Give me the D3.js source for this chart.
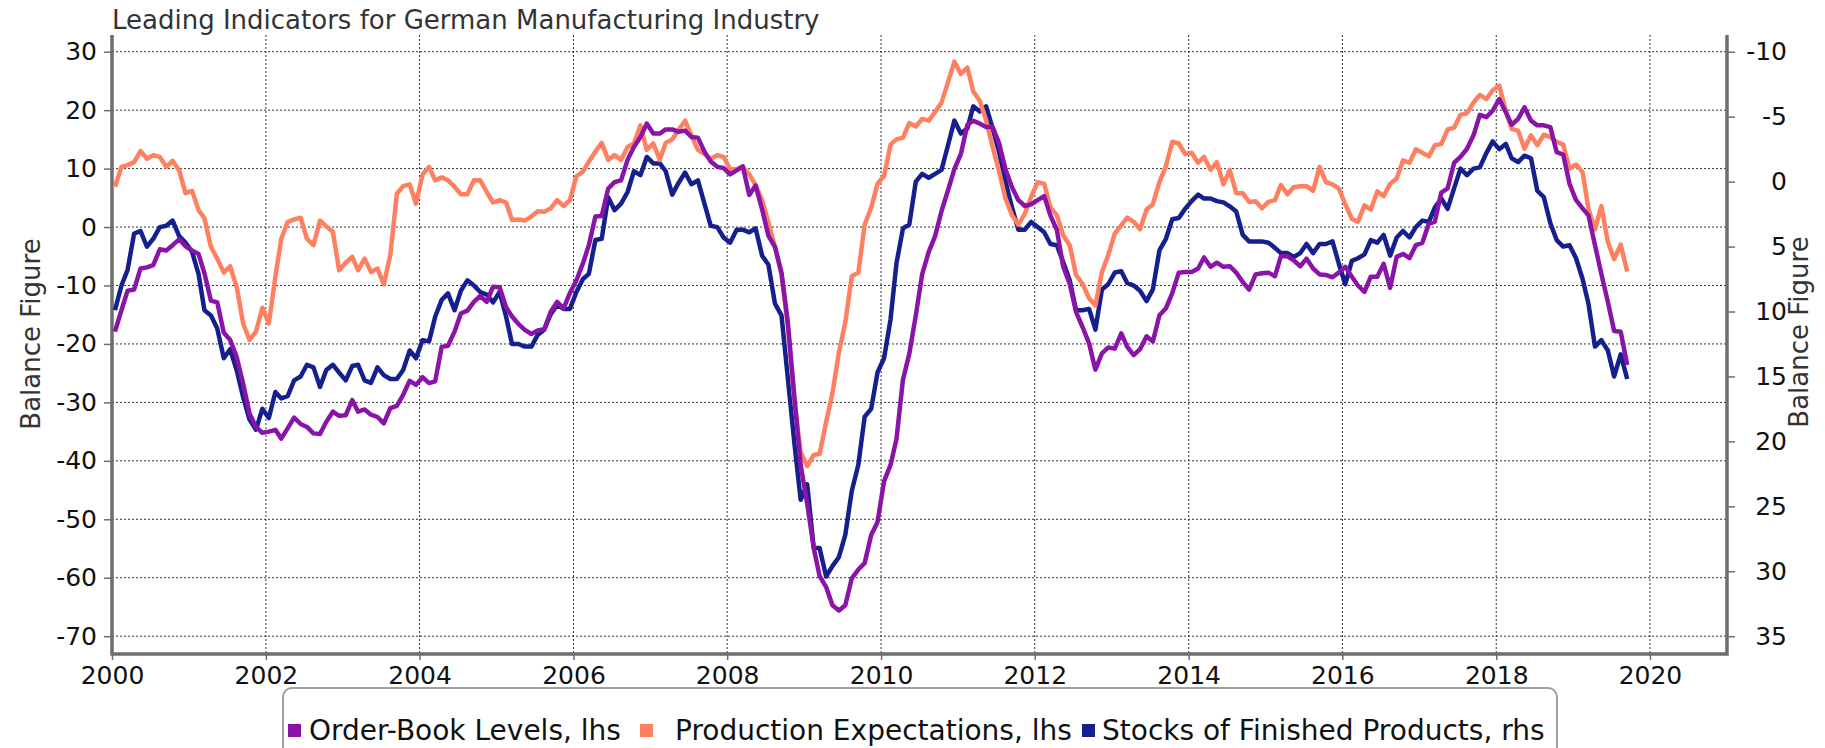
<!DOCTYPE html>
<html>
<head>
<meta charset="utf-8">
<script src="https://cdn.jsdelivr.net/npm/d3@7"></script>
<style>
	body {margin:0; background:#fff;}
	text {font-family:"DejaVu Sans", Verdana, sans-serif;}
	.grid line {stroke:#333; stroke-width:1; stroke-dasharray:2,2;}
	.axis text {font-size:25px; fill:#111;}
	.axis line {stroke:#6e6e6e; stroke-width:1.5;}
	.frame {stroke:#6e6e6e; stroke-width:3.5; fill:none;}
	.serie {fill:none; stroke-width:4.5; stroke-linejoin:round;}
</style>
</head>
<body>
<div class="c_chart"></div>
<script>

/*DATA (monthly, from Jan 2000)
------------------------------------------------------
*/
const orderBook = [ //lhs
	-17.9,-14.2,-10.9,-10.7,-7.1,-6.9,-6.5,-3.8,-4.0,-3.1,-2.1,-3.3,
	-4.0,-4.6,-7.9,-12.6,-12.9,-18.1,-19.3,-22.2,-26.8,-31.9,-34.2,-35.2,
	-35.0,-34.7,-36.2,-34.4,-32.6,-33.7,-34.2,-35.3,-35.4,-33.3,-31.6,-32.3,
	-32.2,-29.6,-31.6,-31.2,-32.1,-32.5,-33.6,-31.0,-30.6,-28.7,-26.3,-27.0,
	-25.7,-26.7,-26.4,-20.5,-20.3,-17.9,-14.8,-14.3,-12.8,-11.8,-12.8,-10.2,
	-10.3,-13.7,-15.3,-16.6,-17.6,-18.3,-17.7,-17.5,-14.5,-12.8,-13.9,-11.3,
	-9.1,-6.2,-3.1,1.8,1.9,6.6,7.7,8.0,11.5,13.7,15.4,17.7,
	16.0,16.0,16.7,16.7,16.3,16.5,15.4,15.3,12.9,11.2,10.3,10.1,
	9.0,9.7,10.4,5.5,7.1,3.0,-1.5,-3.4,-7.8,-16.3,-29.0,-40.7,
	-47.3,-54.9,-59.7,-61.6,-64.7,-65.6,-64.7,-60.1,-58.6,-57.5,-52.7,-50.5,
	-43.5,-40.7,-36.3,-26.1,-21.7,-15.1,-8.1,-4.3,-1.5,2.7,6.3,9.9,
	12.5,17.5,18.2,17.7,17.1,17.1,14.4,9.9,6.8,4.6,3.6,3.9,
	4.6,5.3,2.0,-0.5,-6.8,-9.7,-14.5,-17.1,-19.9,-24.4,-21.6,-20.6,
	-20.8,-18.2,-20.5,-21.9,-20.9,-18.7,-19.6,-15.1,-13.9,-11.3,-7.8,-7.7,
	-7.7,-7.1,-5.2,-6.8,-6.1,-6.8,-6.7,-7.8,-9.4,-10.7,-8.1,-7.9,
	-7.8,-8.4,-5.0,-5.0,-5.7,-6.7,-5.4,-7.1,-8.1,-8.2,-8.6,-7.8,
	-6.8,-8.5,-10.0,-11.1,-8.5,-8.5,-6.3,-10.4,-5.1,-4.6,-5.3,-3.1,
	-2.7,0.6,0.9,5.9,6.6,11.0,12.0,13.4,15.7,19.2,18.8,19.9,
	21.9,19.7,17.5,18.5,20.5,18.2,17.4,17.4,17.1,12.8,12.4,7.4,
	4.6,3.2,2.0,-3.1,-8.0,-12.8,-17.8,-17.9,-23.6
];

const prodExpect = [ //lhs
	6.9,10.3,10.6,11.1,13.0,11.7,12.3,12.0,10.3,11.3,9.7,5.8,
	6.2,2.9,1.5,-3.4,-5.4,-7.8,-6.7,-10.2,-16.5,-19.3,-17.9,-13.8,
	-16.5,-8.5,-2.0,0.9,1.3,1.6,-2.0,-3.1,1.1,0.1,-0.8,-7.4,
	-6.1,-5.1,-7.4,-5.4,-7.7,-7.1,-9.8,-4.8,5.7,7.0,7.3,4.0,
	9.0,10.3,8.0,8.5,8.0,6.9,5.6,5.6,8.0,8.0,6.0,4.2,
	4.6,4.2,1.2,1.3,1.1,1.8,2.7,2.6,3.2,4.6,3.6,4.6,
	8.7,9.5,11.2,12.9,14.4,11.5,12.3,11.5,13.7,14.3,17.4,13.2,
	14.3,11.5,14.4,15.0,16.6,18.2,15.7,13.2,12.5,11.7,12.3,12.0,
	9.9,9.9,10.3,9.0,7.2,4.6,0.8,-3.4,-8.1,-17.0,-29.6,-38.5,
	-40.9,-39.0,-38.8,-33.4,-28.4,-21.4,-16.3,-8.4,-7.8,0.4,3.3,7.4,
	8.7,14.1,15.0,15.3,17.8,17.2,18.5,18.2,19.7,21.3,24.8,28.3,
	26.2,27.3,23.2,21.6,18.2,13.7,9.6,4.9,2.0,0.4,2.3,5.2,
	7.7,7.4,3.4,2.0,-1.4,-3.1,-8.2,-9.7,-12.2,-13.4,-7.7,-4.8,
	-1.1,0.3,1.6,0.9,-0.4,3.0,3.9,7.7,10.4,14.6,14.3,12.5,
	12.7,11.0,12.0,9.8,11.1,7.3,9.8,5.8,5.8,4.3,4.4,3.2,
	4.3,4.6,7.2,5.6,6.8,7.0,7.0,6.2,10.3,7.7,7.3,6.6,
	3.9,1.4,0.9,3.7,3.0,6.1,5.3,7.4,8.3,11.4,11.0,13.3,
	12.7,12.1,14.0,14.2,16.7,17.0,19.2,19.5,21.3,22.6,21.9,23.4,
	24.2,19.9,16.8,16.5,13.4,15.7,14.0,15.8,15.4,14.6,14.1,10.0,
	10.7,9.4,3.1,-0.4,3.6,-2.5,-5.5,-3.0,-7.6
];

const stocks = [ //rhs
	9.9,8.0,6.8,4.0,3.8,5.0,4.4,3.5,3.4,3.0,4.2,4.7,
	5.4,7.1,9.9,10.3,11.3,13.6,12.9,14.5,16.6,18.3,19.1,17.5,
	18.2,16.2,16.7,16.5,15.3,15.0,14.1,14.3,15.8,14.5,14.1,14.7,
	15.3,14.2,14.1,15.3,15.5,14.3,14.9,15.2,15.2,14.5,13.0,13.6,
	12.2,12.3,10.4,9.1,8.6,9.9,8.4,7.6,8.0,8.5,8.7,9.3,
	8.5,10.4,12.5,12.5,12.7,12.7,11.8,11.4,10.2,9.5,9.8,9.8,
	8.5,7.5,7.1,4.5,4.4,1.2,2.2,1.7,0.8,-0.8,-0.5,-1.9,
	-1.4,-1.4,-0.8,1.0,0.1,-0.7,0.2,-0.1,1.7,3.4,3.5,4.3,
	4.7,3.7,3.7,3.9,3.6,5.7,6.4,9.4,10.3,15.1,20.1,24.5,
	23.3,28.2,28.2,30.4,29.6,28.9,27.2,23.8,21.8,18.1,17.5,14.7,
	13.6,10.6,6.3,3.6,3.3,0.0,-0.6,-0.3,-0.6,-0.9,-2.8,-4.7,
	-3.7,-4.1,-5.8,-5.4,-5.8,-4.1,-2.3,0.0,2.0,3.7,3.7,3.1,
	3.5,3.9,4.8,4.9,6.2,7.6,9.9,9.9,9.8,11.4,8.3,7.9,
	7.0,6.9,7.8,8.0,8.4,9.2,8.3,5.3,4.4,2.9,2.8,2.1,
	1.5,1.0,1.3,1.3,1.5,1.6,1.9,2.3,4.1,4.6,4.6,4.6,
	4.7,5.1,5.5,5.5,5.8,5.5,4.8,5.5,4.8,4.8,4.6,6.3,
	7.9,6.1,5.9,5.6,4.5,4.7,4.1,5.7,4.3,3.8,4.3,3.5,
	3.0,3.1,2.0,1.3,2.1,0.5,-1.0,-0.5,-1.0,-1.1,-2.2,-3.1,
	-2.5,-2.9,-1.8,-1.5,-2.0,-1.8,0.7,1.2,3.2,4.5,5.0,4.9,
	5.9,7.5,9.4,12.7,12.2,13.0,15.0,13.3,15.2
];

const leftTicks = [30, 20, 10, 0, -10, -20, -30, -40, -50, -60, -70];
const rightTicks = [-10, -5, 0, 5, 10, 15, 20, 25, 30, 35];
const yearTicks = [2000, 2002, 2004, 2006, 2008, 2010, 2012, 2014, 2016, 2018, 2020];
const seriesNames = ["Order-Book Levels, lhs", "Production Expectations, lhs", "Stocks of Finished Products, rhs"];
const seriesColors = ["#8a14a8", "#ff8060", "#161f8e"];

const months = orderBook.map((d, i) => new Date(2000, i, 15));


/*SVG, SCALES
------------------------------------------------------
*/
const width = 1825;
const height = 748;
const plot = {left:112, right:1727, top:35, bottom:654};

let svg = d3.select(".c_chart")
	.append("svg")
	.attr("width", width)
	.attr("height", height);

let x = d3.scaleTime()
	.domain([new Date(2000, 0, 1), new Date(2021, 0, 1)])
	.range([plot.left, plot.right]);

let yLeft = d3.scaleLinear()
	.domain([-73.05, 32.86])
	.range([plot.bottom, plot.top]);

//right axis is inverted and aligned on the left one
let yRight = d3.scaleLinear()
	.domain([36.37, -11.29])
	.range([plot.bottom, plot.top]);

let fmt = d => String(d); //plain hyphen for negatives


/*GRID
------------------------------------------------------
*/
let grid = svg.append("g").attr("class", "grid");

grid.selectAll(".hgrid")
	.data(leftTicks)
	.enter()
	.append("line")
	.attr("x1", plot.left)
	.attr("x2", plot.right)
	.attr("y1", d => yLeft(d))
	.attr("y2", d => yLeft(d));

grid.selectAll(".vgrid")
	.data(yearTicks.slice(1))
	.enter()
	.append("line")
	.attr("x1", d => x(new Date(d, 0, 1)))
	.attr("x2", d => x(new Date(d, 0, 1)))
	.attr("y1", plot.top)
	.attr("y2", plot.bottom);


/*AXES
------------------------------------------------------
*/
svg.append("g")
	.attr("class", "axis")
	.attr("transform", `translate(${plot.left},0)`)
	.call(d3.axisLeft(yLeft).tickValues(leftTicks).tickSize(8).tickPadding(7).tickFormat(fmt))
	.call(g => g.select(".domain").remove());

svg.append("g")
	.attr("class", "axis")
	.attr("transform", `translate(${plot.right},0)`)
	.call(d3.axisRight(yRight).tickValues(rightTicks).tickSize(8).tickFormat(fmt))
	.call(g => g.select(".domain").remove())
	.call(g => g.selectAll("text").attr("x", 60).attr("text-anchor", "end"));

svg.append("g")
	.attr("class", "axis")
	.attr("transform", `translate(0,${plot.bottom})`)
	.call(d3.axisBottom(x).tickValues(yearTicks.map(d => new Date(d, 0, 1))).tickSize(6).tickPadding(6).tickFormat(d3.timeFormat("%Y")))
	.call(g => g.select(".domain").remove());

//cadre gris épais
svg.append("path")
	.attr("class", "frame")
	.attr("d", `M${plot.left},${plot.top}V${plot.bottom}H${plot.right}V${plot.top}`);


/*LINES
------------------------------------------------------
*/
let lineLeft = d3.line()
	.x((d, i) => x(months[i]))
	.y(d => yLeft(d));

let lineRight = d3.line()
	.x((d, i) => x(months[i]))
	.y(d => yRight(d));

svg.append("path")
	.attr("class", "serie")
	.attr("stroke", seriesColors[2])
	.attr("d", lineRight(stocks));

svg.append("path")
	.attr("class", "serie")
	.attr("stroke", seriesColors[1])
	.attr("d", lineLeft(prodExpect));

svg.append("path")
	.attr("class", "serie")
	.attr("stroke", seriesColors[0])
	.attr("d", lineLeft(orderBook));


/*TITLES
------------------------------------------------------
*/
svg.append("text")
	.attr("x", plot.left)
	.attr("y", 29)
	.attr("font-size", 26)
	.attr("fill", "#333")
	.text("Leading Indicators for German Manufacturing Industry");

svg.append("text")
	.attr("transform", "translate(40,334) rotate(-90)")
	.attr("text-anchor", "middle")
	.attr("font-size", 26)
	.attr("fill", "#333")
	.text("Balance Figure");

svg.append("text")
	.attr("transform", "translate(1808,332) rotate(-90)")
	.attr("text-anchor", "middle")
	.attr("font-size", 26)
	.attr("fill", "#333")
	.text("Balance Figure");


/*LEGEND
------------------------------------------------------
*/
const legendSquareX = [288, 640, 1082];
const legendTextX = [309, 675, 1102];

svg.append("rect")
	.attr("x", 283)
	.attr("y", 688)
	.attr("width", 1274)
	.attr("height", 80)
	.attr("rx", 9)
	.attr("fill", "#fff")
	.attr("stroke", "#a0a0a0")
	.attr("stroke-width", 2);

seriesNames.forEach((name, i) => {
	svg.append("rect")
		.attr("x", legendSquareX[i])
		.attr("y", 724)
		.attr("width", 13)
		.attr("height", 13)
		.attr("fill", seriesColors[i]);
	svg.append("text")
		.attr("x", legendTextX[i])
		.attr("y", 740)
		.attr("font-size", 28)
		.attr("fill", "#111")
		.text(name);
});

</script>
</body>
</html>
